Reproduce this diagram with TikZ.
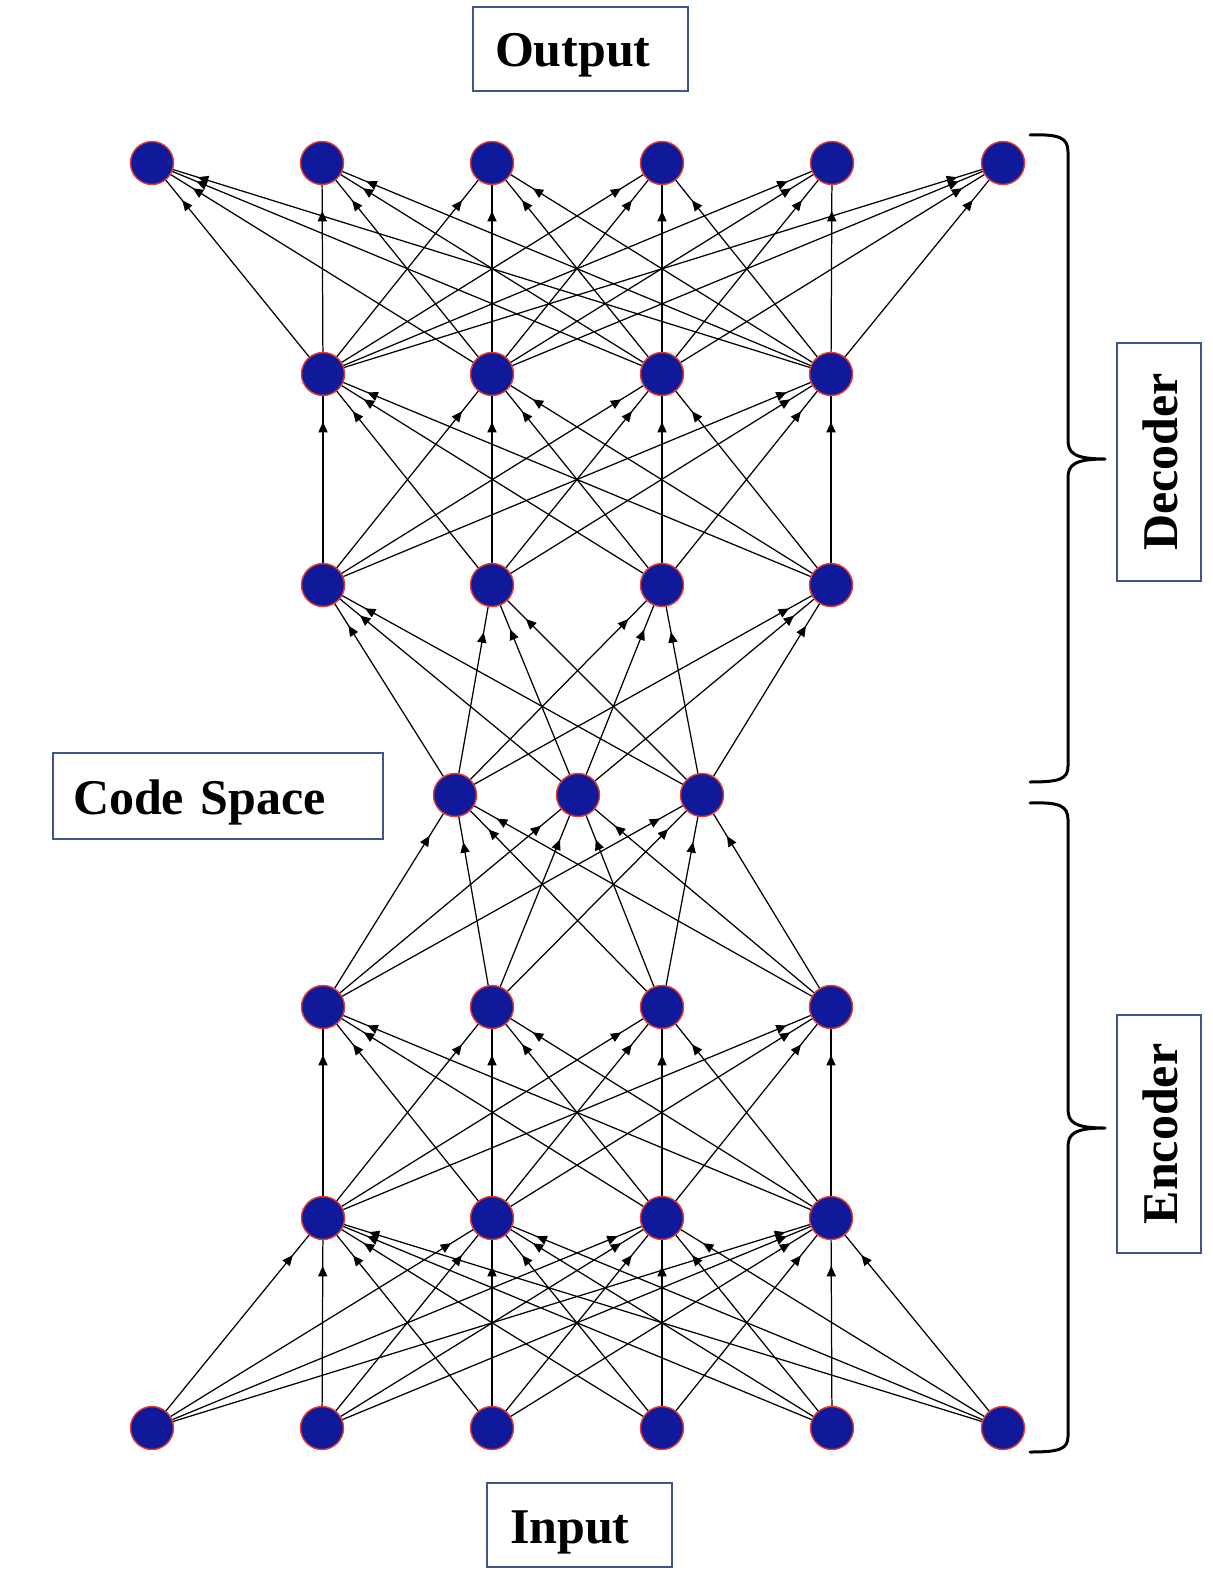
\documentclass[tikz,border=0pt]{standalone}
\usepackage{fontspec}
\setmainfont{Liberation Serif}
\usetikzlibrary{arrows.meta,decorations.markings,backgrounds}
\definecolor{nodeblue}{RGB}{17,25,155}
\definecolor{nodered}{RGB}{230,60,45}
\definecolor{boxblue}{RGB}{60,85,140}
\tikzset{
  neuron/.style={circle, fill=nodeblue, draw=nodered, line width=0.7pt, minimum size=21.5pt, inner sep=0pt},
  edge/.style={line width=0.62pt, black, postaction={decorate},
    decoration={markings, mark=at position -24pt with {\arrow{Triangle[length=5.2pt,width=4.6pt]}}}},
  labelbox/.style={draw=boxblue, line width=0.8pt, fill=white,
    font=\fontsize{25pt}{30pt}\selectfont\bfseries, text height=18pt, text depth=0pt, minimum height=42pt},
  bracepath/.style={line width=1.5pt, line cap=round, line join=round},
}
\begin{document}
\begin{tikzpicture}[x=0.5pt,y=-0.5pt]
\useasboundingbox (0,0) rectangle (1212,1578);
% neurons
\foreach \i/\x in {1/152,2/322,3/492,4/662,5/832,6/1003} {
  \node[neuron] (L0-\i) at (\x,1428) {};
  \node[neuron] (L6-\i) at (\x,163) {};
}
\foreach \i/\x in {1/323,2/492,3/662,4/831} {
  \node[neuron] (L1-\i) at (\x,1218) {};
  \node[neuron] (L2-\i) at (\x,1007) {};
  \node[neuron] (L4-\i) at (\x,585) {};
  \node[neuron] (L5-\i) at (\x,374) {};
}
\foreach \i/\x in {1/455,2/578,3/702} {
  \node[neuron] (L3-\i) at (\x,795) {};
}
% connections
\begin{pgfonlayer}{background}
\fill[white] (0,0) rectangle (1212,1578);
\foreach \a/\b/\na/\nb in {0/1/6/4,1/2/4/4,2/3/4/3,3/4/3/4,4/5/4/4,5/6/4/6}{
  \foreach \i in {1,...,\na}{
    \foreach \j in {1,...,\nb}{
      \draw[edge] (L\a-\i.center) -- (L\b-\j.center);
    }
  }
}
\end{pgfonlayer}
% labels
\node[labelbox, text width=85.5pt, inner xsep=11pt, align=left] (out) at (580.5,49) {Output};
\node[labelbox, text width=69.5pt, inner xsep=11.5pt, align=left] (inp) at (579.5,1525) {Input};
\node[labelbox, text width=145pt, inner xsep=10pt, align=left, minimum height=43pt] (code) at (218,796) {Code Space};
\node[labelbox, rotate=90, minimum width=119pt] (dec) at (1159,462) {Decoder};
\node[labelbox, rotate=90, minimum width=119pt] (enc) at (1159,1134) {Encoder};
% braces
\draw[bracepath] (1030,135) .. controls (1060,134) and (1068,138) .. (1068,152) -- (1068,440)
  .. controls (1068,453) and (1074,459) .. (1105,459)
  .. controls (1074,459) and (1068,465) .. (1068,478) -- (1068,766)
  .. controls (1068,779) and (1060,782) .. (1030,782);
\draw[bracepath] (1030,803) .. controls (1060,802) and (1068,806) .. (1068,820) -- (1068,1109)
  .. controls (1068,1122) and (1074,1128) .. (1105,1128)
  .. controls (1074,1128) and (1068,1134) .. (1068,1147) -- (1068,1436)
  .. controls (1068,1449) and (1060,1452) .. (1030,1452);
\end{tikzpicture}
\end{document}
